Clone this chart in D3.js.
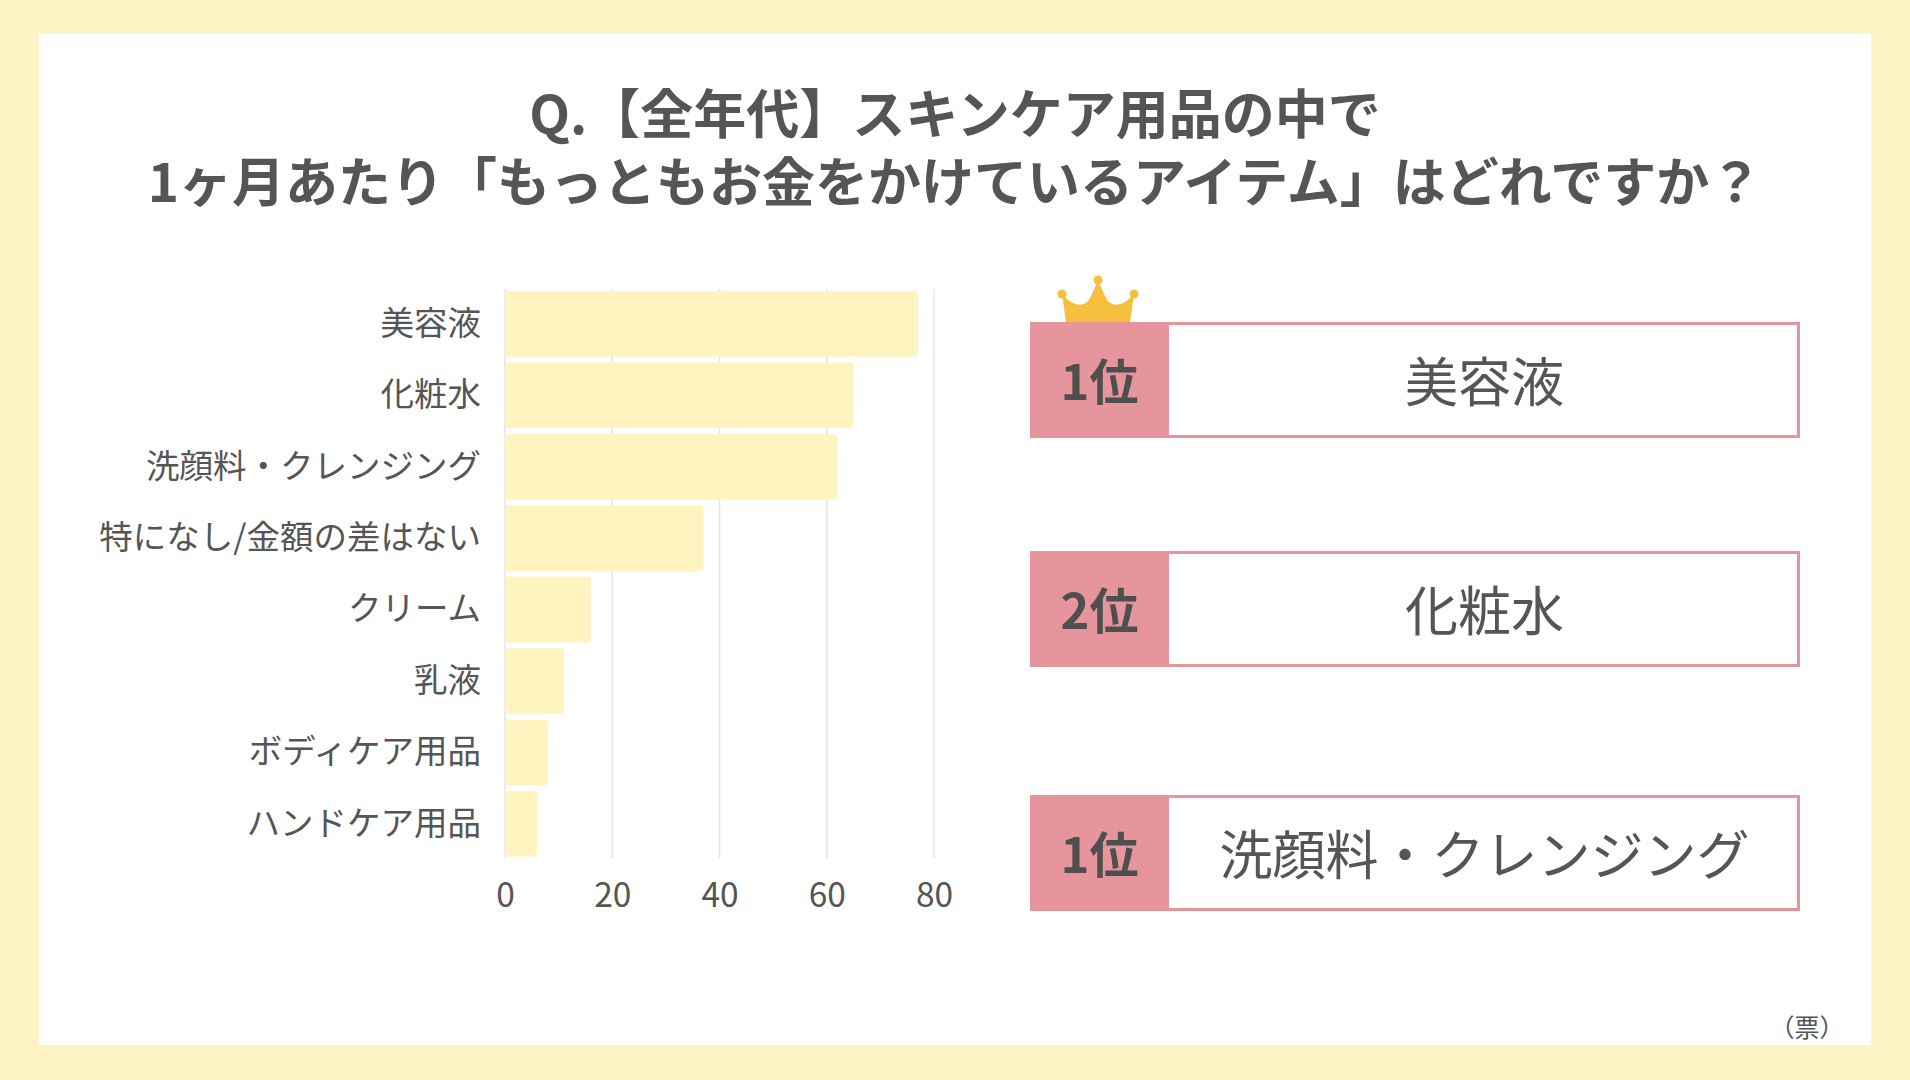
<!DOCTYPE html>
<html lang="ja">
  <head>
    <meta charset="UTF-8" />
    <title>スキンケア用品 1ヶ月あたりもっともお金をかけているアイテム</title>
    <script src="https://d3js.org/d3.v7.min.js"></script>
    <style>
      body {
        margin: 0;
        background: #fef3c4;
        font-family: "Noto Sans CJK JP", "Noto Sans", sans-serif;
      }
      svg {
        display: block;
      }
      .title {
        font-size: 53px;
        font-weight: 700;
        fill: #555;
        text-anchor: middle;
      }
      .axis text {
        fill: #555;
        font-family: "Noto Sans CJK JP", sans-serif;
        font-size: 33.5px;
      }
    </style>
  </head>
  <body>
    <svg id="chart" width="1910" height="1080"></svg>

    <script>
      // データ（票）
      const categories = [
        "美容液",
        "化粧水",
        "洗顔料・クレンジング",
        "特になし/金額の差はない",
        "クリーム",
        "乳液",
        "ボディケア用品",
        "ハンドケア用品",
      ];
      const votes = [77, 65, 62, 37, 16, 11, 8, 6];
      const xTicks = [0, 20, 40, 60, 80];

      // ランキング表示
      const rankLabels = ["1位", "2位", "1位"];
      const rankItems = ["美容液", "化粧水", "洗顔料・クレンジング"];

      const titleLines = [
        "Q.【全年代】スキンケア用品の中で",
        "1ヶ月あたり「もっともお金をかけているアイテム」はどれですか？",
      ];

      const svg = d3.select("#chart");
      const W = +svg.attr("width");
      const H = +svg.attr("height");

      // 背景パネル
      svg.append("rect").attr("width", W).attr("height", H).attr("fill", "#fef3c4");
      svg.append("rect")
        .attr("x", 39).attr("y", 34)
        .attr("width", 1832).attr("height", 1011)
        .attr("fill", "#fff");

      // タイトル
      svg.selectAll(".title")
        .data(titleLines)
        .join("text")
        .attr("class", "title")
        .attr("x", 955)
        .attr("y", (d, i) => 111 + i * 68)
        .attr("dominant-baseline", "central")
        .text((d) => d);

      // ----------------------------------------------------------------
      // 棒グラフ
      // ----------------------------------------------------------------
      const x = d3.scaleLinear().domain([0, 80]).range([505, 934]);
      const y = d3.scaleBand()
        .domain(categories)
        .range([289, 859])
        .paddingInner(0.08)
        .paddingOuter(0.03);

      // グリッド線
      svg.append("g")
        .selectAll("line")
        .data(xTicks)
        .join("line")
        .attr("x1", (d) => x(d)).attr("x2", (d) => x(d))
        .attr("y1", 289).attr("y2", 858)
        .attr("stroke", "#e3e3e3")
        .attr("stroke-width", 1.5);

      // 棒（右端だけ角丸）
      const r = 4;
      svg.append("g")
        .selectAll("path")
        .data(votes)
        .join("path")
        .attr("fill", "#fff3c0")
        .attr("d", (d, i) => {
          const x0 = x(0), x1 = x(d);
          const y0 = y(categories[i]), h = y.bandwidth();
          const p = d3.path();
          p.moveTo(x0, y0);
          p.lineTo(x1 - r, y0);
          p.quadraticCurveTo(x1, y0, x1, y0 + r);
          p.lineTo(x1, y0 + h - r);
          p.quadraticCurveTo(x1, y0 + h, x1 - r, y0 + h);
          p.lineTo(x0, y0 + h);
          p.closePath();
          return p.toString();
        });

      // 軸
      const yAxis = svg.append("g")
        .attr("class", "axis")
        .attr("transform", `translate(${x(0)},0)`)
        .call(d3.axisLeft(y).tickSize(0).tickPadding(24));
      yAxis.select(".domain").remove();

      const xAxis = svg.append("g")
        .attr("class", "axis")
        .attr("transform", "translate(0,859)")
        .call(d3.axisBottom(x).tickValues(xTicks).tickSize(0).tickPadding(24));
      xAxis.select(".domain").remove();

      // ----------------------------------------------------------------
      // ランキングカード
      // ----------------------------------------------------------------
      const cardTops = [322, 551, 795];
      const cardX = 1030, cardW = 770, cardH = 116, badgeW = 139;
      const pink = "#e5959b";

      const cards = svg.append("g")
        .selectAll("g")
        .data(rankItems)
        .join("g")
        .attr("transform", (d, i) => `translate(${cardX},${cardTops[i]})`);

      cards.append("rect")
        .attr("x", 1.5).attr("y", 1.5)
        .attr("width", cardW - 3).attr("height", cardH - 3)
        .attr("fill", "#fff")
        .attr("stroke", pink)
        .attr("stroke-width", 3);

      cards.append("rect")
        .attr("width", badgeW).attr("height", cardH)
        .attr("fill", pink);

      cards.append("text")
        .attr("x", badgeW / 2)
        .attr("y", cardH / 2 - 2)
        .attr("text-anchor", "middle")
        .attr("dominant-baseline", "central")
        .attr("fill", "#4f4f4f")
        .style("font-size", "49px")
        .style("font-weight", 700)
        .text((d, i) => rankLabels[i]);

      cards.append("text")
        .attr("x", badgeW + (cardW - badgeW) / 2)
        .attr("y", cardH / 2 - 1)
        .attr("text-anchor", "middle")
        .attr("dominant-baseline", "central")
        .attr("fill", "#555")
        .style("font-size", "53px")
        .style("font-weight", 400)
        .text((d) => d);

      // 王冠
      const crown = svg.append("g").attr("transform", "translate(1098,322)");
      const cp = d3.path();
      cp.moveTo(-32, 0);
      cp.lineTo(-36, -28);
      cp.quadraticCurveTo(-20, -10, -9, -22);
      cp.lineTo(0, -41);
      cp.lineTo(9, -22);
      cp.quadraticCurveTo(20, -10, 36, -28);
      cp.lineTo(32, 0);
      cp.closePath();
      crown.append("path").attr("d", cp.toString()).attr("fill", "#f7bf3e");
      crown.selectAll("circle")
        .data([[-36, -28], [0, -42], [36, -28]])
        .join("circle")
        .attr("cx", (d) => d[0]).attr("cy", (d) => d[1])
        .attr("r", 4.5)
        .attr("fill", "#f7bf3e");

      // 単位
      svg.append("text")
        .attr("x", 1807).attr("y", 1026)
        .attr("text-anchor", "middle")
        .attr("dominant-baseline", "central")
        .attr("fill", "#555")
        .style("font-size", "25px")
        .text("（票）");
    </script>
  </body>
</html>
